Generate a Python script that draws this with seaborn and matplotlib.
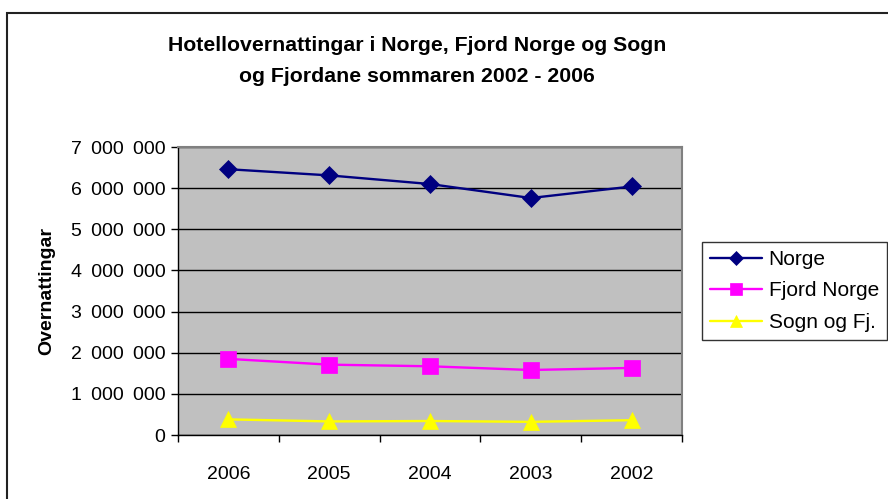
import matplotlib
matplotlib.use("Agg")
import matplotlib.pyplot as plt
import matplotlib.ticker as mticker
from matplotlib.patches import Rectangle
import seaborn as sns
import pandas as pd

years = ["2006", "2005", "2004", "2003", "2002"]
norge = [6460000, 6310000, 6100000, 5760000, 6040000]
fjord_norge = [1850000, 1710000, 1670000, 1580000, 1630000]
sogn_fj = [380000, 330000, 340000, 320000, 360000]
series_names = ["Norge", "Fjord Norge", "Sogn og Fj."]
y_ticks = [0, 1000000, 2000000, 3000000, 4000000, 5000000, 6000000, 7000000]

title = "Hotellovernattingar i Norge, Fjord Norge og Sogn\nog Fjordane sommaren 2002 - 2006"
y_label = "Overnattingar"

df = pd.DataFrame({
    "year": years * 3,
    "value": norge + fjord_norge + sogn_fj,
    "series": [series_names[0]] * 5 + [series_names[1]] * 5 + [series_names[2]] * 5,
})

sns.set_theme(style="white")
plt.rcParams["font.family"] = ["Liberation Sans", "DejaVu Sans"]

W, H = 888, 499
fig = plt.figure(figsize=(W / 100, H / 100), dpi=100)
ax = fig.add_axes([178 / W, 1 - 435 / H, (682 - 178) / W, (435 - 147) / H])
ax.set_facecolor("#C0C0C0")

palette = {"Norge": "#000080", "Fjord Norge": "#FF00FF", "Sogn og Fj.": "#FFFF00"}
markers = {"Norge": "D", "Fjord Norge": "s", "Sogn og Fj.": "^"}
sizes = {"Norge": 9.5, "Fjord Norge": 11, "Sogn og Fj.": 11}

for name in series_names:
    sub = df[df["series"] == name]
    sns.lineplot(data=sub, x="year", y="value", ax=ax, color=palette[name],
                 marker=markers[name], markersize=sizes[name],
                 markeredgecolor=palette[name], markeredgewidth=0.5,
                 linewidth=1.7, label=name, sort=False, zorder=3)

ax.set_xlim(-0.5, 4.5)
ax.set_ylim(0, 7000000)
ax.set_yticks(y_ticks)
ax.yaxis.set_major_formatter(mticker.FuncFormatter(
    lambda v, p: f"{int(v):,}".replace(",", "\u2009 ") if v else "0"))
ax.set_xticks(range(len(years)))
ax.set_xticklabels(years)
ax.xaxis.set_minor_locator(mticker.FixedLocator([i - 0.5 for i in range(len(years) + 1)]))
ax.tick_params(axis="x", which="major", length=0, pad=22, labelsize=14, colors="black")
ax.tick_params(axis="x", which="minor", length=5, width=1, color="black", direction="out", bottom=True)
ax.tick_params(axis="y", length=5, width=1, color="black", direction="out", left=True, labelsize=14, pad=4, labelcolor="black")

ax.grid(axis="y", color="black", linewidth=1, zorder=1)
ax.set_axisbelow(True)
for s in ["top", "right"]:
    ax.spines[s].set_color("#808080")
    ax.spines[s].set_linewidth(1.5)
for s in ["left", "bottom"]:
    ax.spines[s].set_color("black")
    ax.spines[s].set_linewidth(1)
    ax.spines[s].set_visible(True)

ax.set_xlabel("")
ax.set_ylabel(y_label, fontsize=14, fontweight="bold", color="black", labelpad=11)

fig.text(417 / W, 1 - 61 / H, title, ha="center", va="center", fontsize=15.3,
         fontweight="bold", color="black", linespacing=1.75)

leg = ax.legend(loc="center left", bbox_to_anchor=(702 / W, 1 - 340 / H, (887 - 702) / W, (340 - 242) / H),
                bbox_transform=fig.transFigure, mode="expand", frameon=True, fancybox=False,
                edgecolor="black", fontsize=15, handlelength=2.5, handletextpad=0.3,
                borderpad=0.4, labelspacing=0.6, borderaxespad=0, markerscale=0.75)
leg.get_frame().set_linewidth(1)
for t in leg.get_texts():
    t.set_color("black")

fig.patches.append(Rectangle((6.5 / W, -0.1), 1.2, 1 - 12.5 / H + 0.1, transform=fig.transFigure,
                             fill=False, edgecolor="#222222", linewidth=1.5, figure=fig))

fig.savefig("out.png", dpi=100, facecolor="white")
